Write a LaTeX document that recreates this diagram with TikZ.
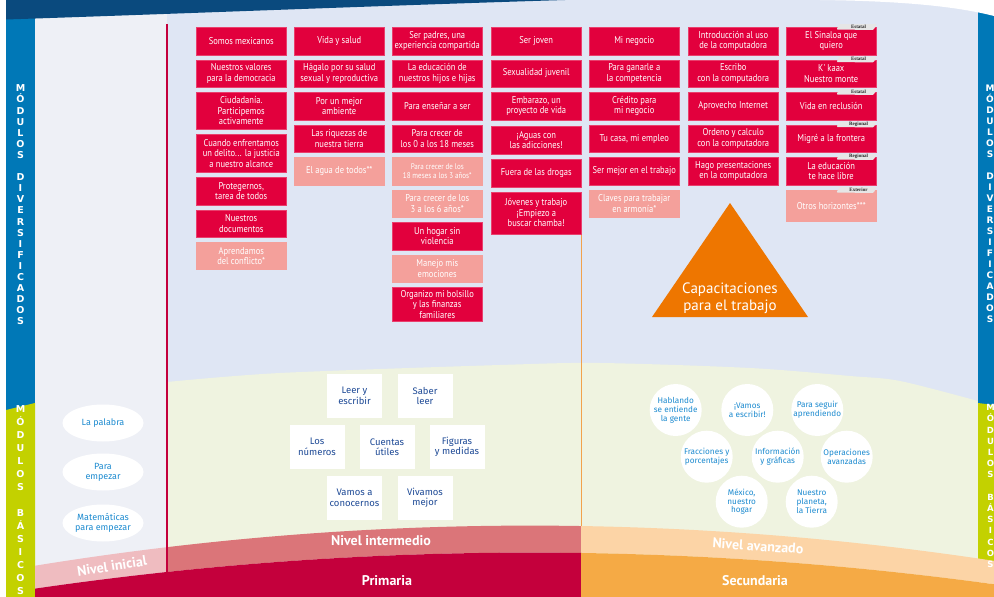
\documentclass[tikz,border=0pt]{standalone}
\usepackage{fontspec}
\setmainfont{PT Sans}
\newfontfamily\boxfont[FakeStretch=0.86]{PT Sans}
\newfontfamily\labfont{Fira Sans}
\newfontfamily\tagfont{Liberation Serif}
\newfontfamily\vfont{DejaVu Sans}
\usetikzlibrary{shapes.geometric,calc}
\definecolor{navy}{HTML}{0A4A7E}
\definecolor{bandblue}{HTML}{0078B7}
\definecolor{bandgreen}{HTML}{C3D100}
\definecolor{lightarea}{HTML}{DFE6F4}
\definecolor{graypanel}{HTML}{EEF0F6}
\definecolor{cream}{HTML}{EFF3E0}
\definecolor{boxred}{HTML}{E2003D}
\definecolor{boxpink}{HTML}{F4A09B}
\definecolor{pinkband}{HTML}{EFBCC0}
\definecolor{midband}{HTML}{DB7579}
\definecolor{avband}{HTML}{FCD4A6}
\definecolor{primcol}{HTML}{C4003C}
\definecolor{seccol}{HTML}{F5AA45}
\definecolor{triorange}{HTML}{EE7600}
\definecolor{orline}{HTML}{F2A24C}
\definecolor{dblue}{HTML}{1E4A96}
\definecolor{lblue}{HTML}{1D8BD0}
\definecolor{tabgray}{HTML}{E6E6E6}
\tikzset{
  rbox/.style={draw=boxred!75!white, line width=0.5pt, fill=boxred, text=white,
    anchor=north west, minimum width=90pt, minimum height=27.5pt, inner sep=0pt,
    align=center, font=\boxfont\fontsize{9.9}{10.4}\selectfont},
  pbox/.style={rbox, fill=boxpink, draw=boxpink},
  sq/.style={rectangle, fill=white, minimum width=55pt, minimum height=44pt, inner sep=0pt,
    align=center, text=dblue, font=\labfont\fontsize{9.5}{10.5}\selectfont},
  circ/.style={circle, fill=white, minimum size=52pt, inner sep=0pt, align=center,
    text=lblue, font=\labfont\fontsize{8.2}{8.8}\selectfont},
  ell/.style={ellipse, fill=white, minimum width=81pt, minimum height=37pt, inner sep=0pt,
    align=center, text=lblue, font=\labfont\fontsize{9}{10}\selectfont},
  nivel/.style={text=white, font=\bfseries\fontsize{14}{16}\selectfont, inner sep=0pt},
  vlab/.style={text=white, align=center, inner sep=0pt},
  tagtext/.style={text=black!85, inner sep=0pt, font=\tagfont\bfseries\fontsize{5}{5}\selectfont},
}
\newcommand{\regtag}[2]{%
  \fill[tabgray, rounded corners=1pt] ($(#1.north east)+(-40,2.5)$) -- ($(#1.north east)+(-37,-3)$) -- ($(#1.north east)+(0,-3)$) -- ($(#1.north east)+(-3,3)$) -- cycle;
  \node[tagtext] at ($(#1.north east)+(-18,-0.3)$) {#2};}
\begin{document}
\begin{tikzpicture}[x=1pt,y=-1pt]
\useasboundingbox (0,0) rectangle (994,597);
\fill[white] (0,0) rectangle (994,597);
\fill[lightarea] (35,0) rectangle (978,597);
\fill[graypanel] (35,0) rectangle (167,597);
\fill[cream] plot[smooth] coordinates {(167,382) (280,373) (500,365) (600,363) (750,368) (850,376) (900,381) (978,401)} -- (978,597) -- (167,597) -- cycle;
% side bands
\fill[bandblue] (6,0) rectangle (35,410);
\fill[bandgreen] (6,410) -- (35,403) -- (35,597) -- (6,597) -- cycle;
\fill[bandblue] (978,0) rectangle (994,406);
\fill[bandgreen] (978,403) -- (994,405) -- (994,575) -- (978,575) -- cycle;
\fill[white] (820,0) .. controls (900,1) and (955,6) .. (994,16) -- (994,0) -- cycle;
\fill[navy] (6,0) -- (565,0) .. controls (400,5) and (200,13) .. (6,19.5) -- cycle;
% level bands
\fill[pinkband] plot[domain=35:167,samples=20] (\x,{525.6+1.637*((\x-530)/100)*((\x-530)/100)}) -- plot[domain=167:35,samples=20] (\x,{552.6+1.47*((\x-530)/100)*((\x-530)/100)}) -- cycle;
\fill[midband] plot[domain=167:581,samples=30] (\x,{525.6+1.637*((\x-530)/100)*((\x-530)/100)}) -- plot[domain=581:167,samples=30] (\x,{552.6+1.47*((\x-530)/100)*((\x-530)/100)}) -- cycle;
\fill[avband] plot[domain=581:994,samples=30] (\x,{525.6+1.637*((\x-530)/100)*((\x-530)/100)}) -- plot[domain=994:581,samples=30] (\x,{552.6+1.47*((\x-530)/100)*((\x-530)/100)}) -- cycle;
\fill[primcol] plot[domain=35:581,samples=40] (\x,{552.6+1.47*((\x-530)/100)*((\x-530)/100)}) -- (581,597) -- (35,597) -- cycle;
\fill[seccol] plot[domain=581:994,samples=40] (\x,{552.6+1.47*((\x-530)/100)*((\x-530)/100)}) -- (994,597) -- (581,597) -- cycle;
% divider lines
\coordinate (redtop) at (167,24);
\coordinate (redbot) at (167,572);
\coordinate (ortop) at (581.5,226);
\coordinate (orbot) at (581.5,526);
\draw[draw=primcol, line width=1.3pt] (redtop) -- (redbot);
\draw[draw=orline, line width=1.6pt] (ortop) -- (orbot);
% vertical labels
\node[vlab, font=\vfont\bfseries\fontsize{9.5}{11.1}\selectfont] (vl1) at (20.5,205) {M\\Ó\\D\\U\\L\\O\\S\\\mbox{}\\D\\I\\V\\E\\R\\S\\I\\F\\I\\C\\A\\D\\O\\S};
\node[vlab, font=\vfont\bfseries\fontsize{9.5}{13}\selectfont] (vl2) at (20.5,500) {M\\Ó\\D\\U\\L\\O\\S\\\mbox{}\\B\\Á\\S\\I\\C\\O\\S};
\node[vlab, font=\vfont\bfseries\fontsize{9}{11}\selectfont] (vr1) at (990,204) {M\\Ó\\D\\U\\L\\O\\S\\\mbox{}\\D\\I\\V\\E\\R\\S\\I\\F\\I\\C\\A\\D\\O\\S};
\node[vlab, font=\vfont\bfseries\fontsize{8.5}{11.2}\selectfont] (vr2) at (990.5,486) {M\\Ó\\D\\U\\L\\O\\S\\\mbox{}\\B\\Á\\S\\I\\C\\O\\S};
% column 1
\node[rbox] (a1) at (196,27) {Somos mexicanos};
\node[rbox] (a2) at (196,59.5) {Nuestros valores\\para la democracia};
\node[rbox, minimum height=37pt] (a3) at (196,92) {Ciudadanía.\\Participemos\\activamente};
\node[rbox, minimum height=38pt] (a4) at (196,134) {Cuando enfrentamos\\un delito... la justicia\\a nuestro alcance};
\node[rbox] (a5) at (196,177) {Protegernos,\\tarea de todos};
\node[rbox] (a6) at (196,209.5) {Nuestros\\documentos};
\node[pbox, minimum height=27pt] (a7) at (196,242) {Aprendamos\\del conflicto*};
% column 2
\node[rbox] (b1) at (294,27) {Vida y salud};
\node[rbox] (b2) at (294,59.5) {Hágalo por su salud\\sexual y reproductiva};
\node[rbox] (b3) at (294,92) {Por un mejor\\ambiente};
\node[rbox] (b4) at (294,124.5) {Las riquezas de\\nuestra tierra};
\node[pbox] (b5) at (294,157) {El agua de todos**};
% column 3
\node[rbox] (c1) at (392,27) {Ser padres, una\\experiencia compartida};
\node[rbox] (c2) at (392,59.5) {La educación de\\nuestros hijos e hijas};
\node[rbox] (c3) at (392,92) {Para enseñar a ser};
\node[rbox] (c4) at (392,124.5) {Para crecer de\\los 0 a los 18 meses};
\node[pbox, font=\boxfont\fontsize{8.2}{9.5}\selectfont] (c5) at (392,157) {Para crecer de los\\18 meses a los 3 años*};
\node[pbox] (c6) at (392,189.5) {Para crecer de los\\3 a los 6 años*};
\node[rbox] (c7) at (392,222) {Un hogar sin\\violencia};
\node[pbox] (c8) at (392,254.5) {Manejo mis\\emociones};
\node[rbox, minimum height=34pt] (c9) at (392,287) {Organizo mi bolsillo\\y las finanzas\\familiares};
% column 4
\node[rbox] (d1) at (491,27) {Ser joven};
\node[rbox] (d2) at (491,59.5) {Sexualidad juvenil};
\node[rbox, minimum height=28pt] (d3) at (491,92) {Embarazo, un\\proyecto de vida};
\node[rbox, minimum height=28.5pt] (d4) at (491,125.5) {¡Aguas con\\las adicciones!};
\node[rbox, minimum height=28pt] (d5) at (491,158.5) {Fuera de las drogas};
\node[rbox, minimum height=42pt] (d6) at (491,191.5) {Jóvenes y trabajo\\¡Empiezo a\\buscar chamba!};
% column 5
\node[rbox] (e1) at (589,27) {Mi negocio};
\node[rbox] (e2) at (589,59.5) {Para ganarle a\\la competencia};
\node[rbox] (e3) at (589,92) {Crédito para\\mi negocio};
\node[rbox] (e4) at (589,124.5) {Tu casa, mi empleo};
\node[rbox] (e5) at (589,157) {Ser mejor en el trabajo};
\node[pbox] (e6) at (589,189.5) {Claves para trabajar\\en armonía*};
% column 6
\node[rbox] (f1) at (688,27) {Introducción al uso\\de la computadora};
\node[rbox] (f2) at (688,59.5) {Escribo\\con la computadora};
\node[rbox] (f3) at (688,92) {Aprovecho Internet};
\node[rbox] (f4) at (688,124.5) {Ordeno y calculo\\con la computadora};
\node[rbox] (f5) at (688,157) {Hago presentaciones\\en la computadora};
% column 7
\node[rbox] (g1) at (786,27) {El Sinaloa que\\quiero};
\node[rbox] (g2) at (786,59.5) {K' kaax\\Nuestro monte};
\node[rbox] (g3) at (786,92) {Vida en reclusión};
\node[rbox] (g4) at (786,124.5) {Migré a la frontera};
\node[rbox] (g5) at (786,157) {La educación\\te hace libre};
\node[pbox, minimum height=31pt] (g6) at (786,190) {Otros horizontes***};
\regtag{g1}{Estatal}
\regtag{g2}{Estatal}
\regtag{g3}{Estatal}
\regtag{g4}{Regional}
\regtag{g5}{Regional}
\regtag{g6}{Exterior}
% triangle
\fill[triorange] (730,203) -- (808,317) -- (652,317) -- cycle;
\node[text=white, align=center, inner sep=0pt, font=\fontsize{15}{17}\selectfont] (cap) at (730,298) {Capacitaciones\\para el trabajo};
% left ellipses
\node[ell] (e1l) at (103,423) {La palabra};
\node[ell] (e2l) at (103,472) {Para\\empezar};
\node[ell] (e3l) at (103,523) {Matemáticas\\para empezar};
% squares
\node[sq] (s1) at (354.5,396) {Leer y\\escribir};
\node[sq] (s2) at (425,396) {Saber\\leer};
\node[sq] (s3) at (317,447) {Los\\números};
\node[sq] (s4) at (387,447) {Cuentas\\útiles};
\node[sq] (s5) at (457,447) {Figuras\\y medidas};
\node[sq] (s6) at (354.5,498) {Vamos a\\conocernos};
\node[sq] (s7) at (425,498) {Vivamos\\mejor};
% circles
\node[circ] (k1) at (675.7,410) {Hablando\\se entiende\\la gente};
\node[circ] (k2) at (747.3,410) {¡Vamos\\a escribir!};
\node[circ] (k3) at (817.3,410) {Para seguir\\aprendiendo};
\node[circ] (k4) at (706.7,456.7) {Fracciones y\\porcentajes};
\node[circ] (k5) at (777.7,456.7) {Información\\y gráficas};
\node[circ] (k6) at (846.7,456.7) {Operaciones\\avanzadas};
\node[circ] (k7) at (741.7,501.7) {México,\\nuestro\\hogar};
\node[circ] (k8) at (811.7,501.7) {Nuestro\\planeta,\\la Tierra};
% level labels
\node[nivel, rotate=9] (ninicial) at (112,566) {Nivel inicial};
\node[nivel] (ninter) at (381,541) {Nivel intermedio};
\node[nivel, rotate=-4] (navanz) at (758,546) {Nivel avanzado};
\node[nivel] (prim) at (387,581) {Primaria};
\node[nivel] (secu) at (755,581) {Secundaria};
\end{tikzpicture}
\end{document}
